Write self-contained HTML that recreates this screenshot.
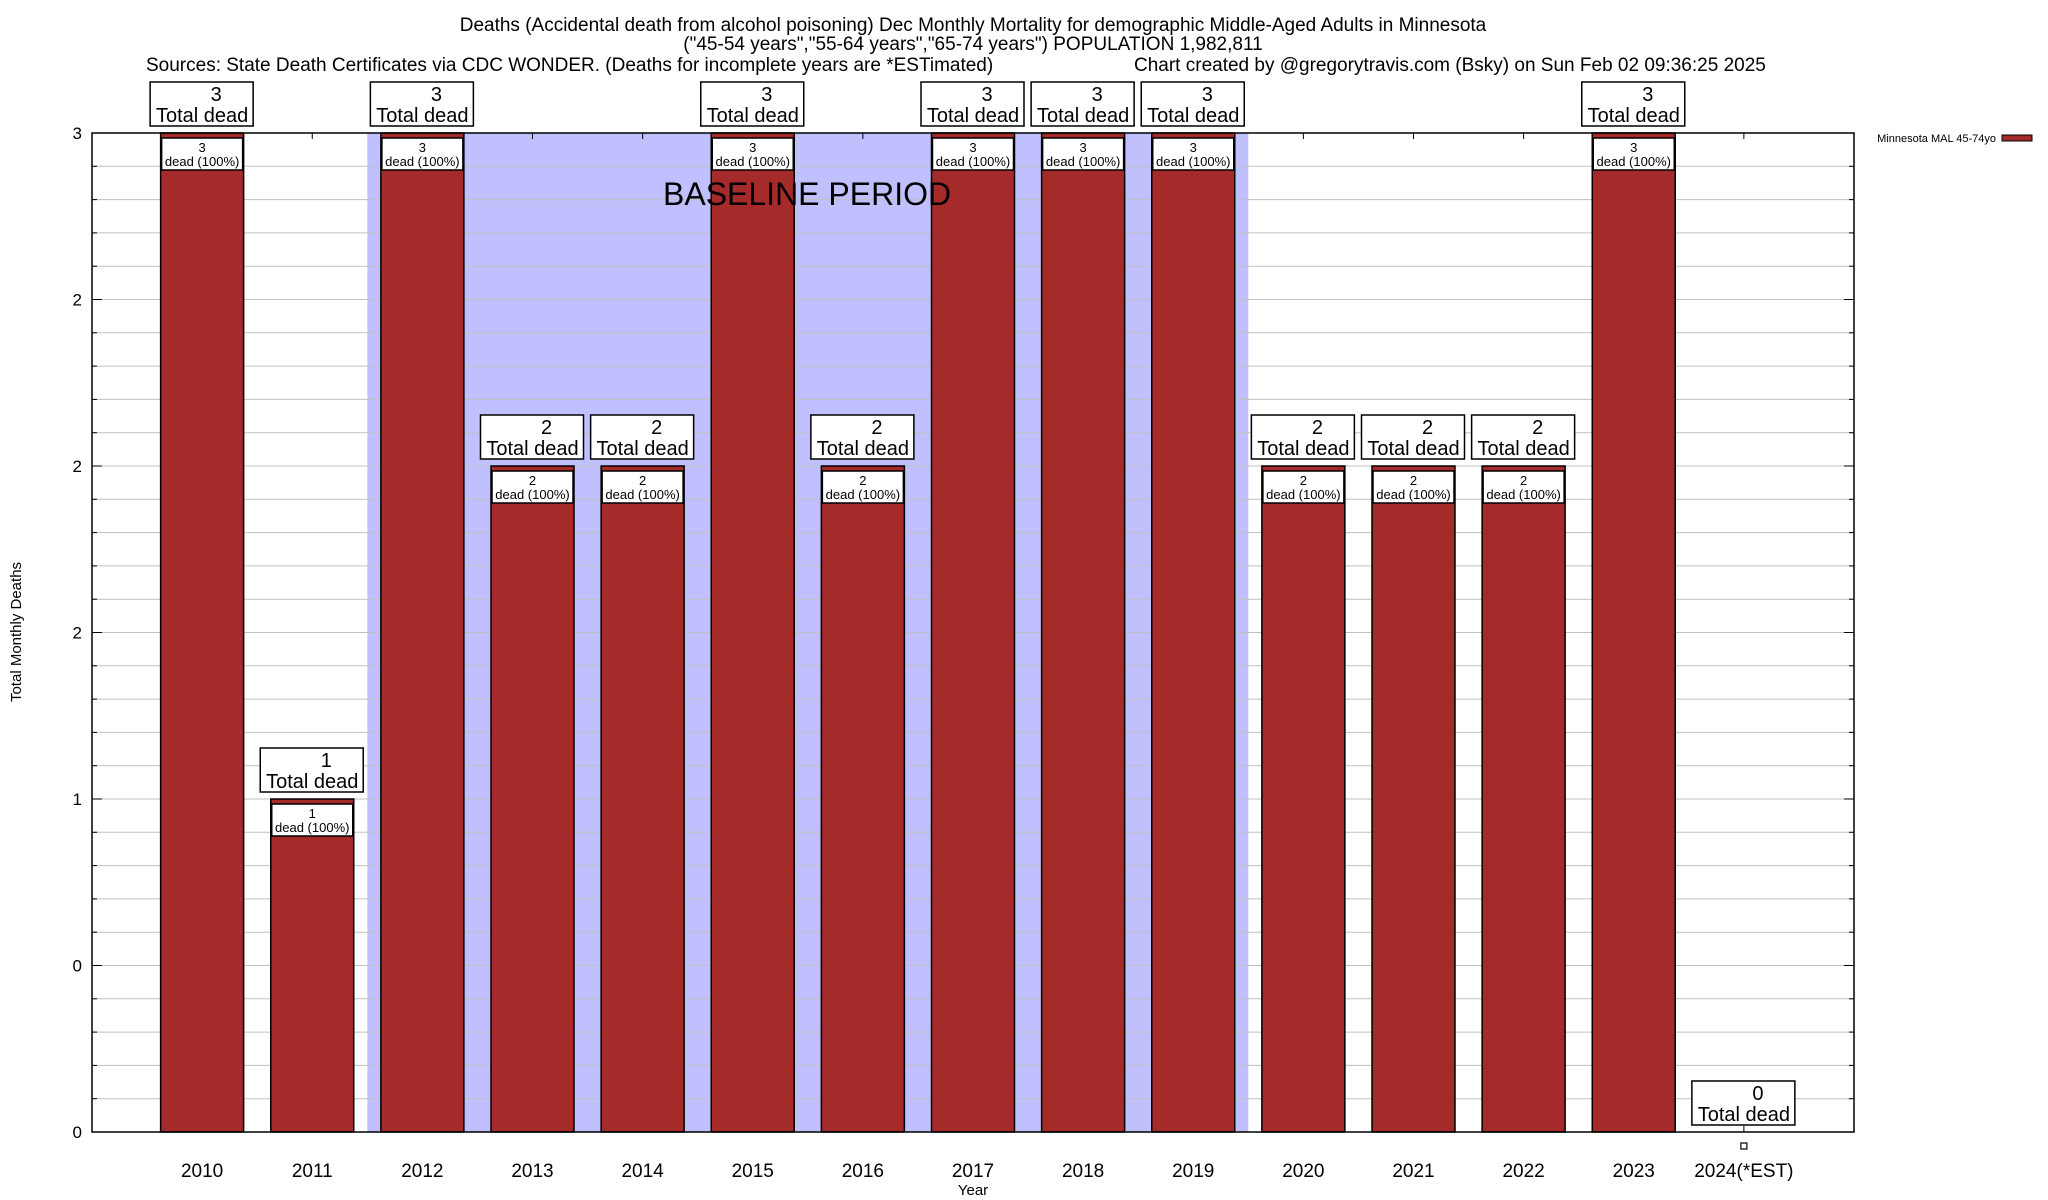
<!DOCTYPE html>
<html><head><meta charset="utf-8"><style>
html,body{margin:0;padding:0;background:#fff}
svg{display:block;font-family:"Liberation Sans",sans-serif}
</style></head><body>
<svg id="chart" width="2048" height="1200" viewBox="0 0 2048 1200" xmlns="http://www.w3.org/2000/svg">
<g font-size="19" fill="#000">
<text x="973" y="31" text-anchor="middle">Deaths (Accidental death from alcohol poisoning) Dec Monthly Mortality for demographic Middle-Aged Adults in Minnesota</text>
<text x="973" y="50" text-anchor="middle">("45-54 years","55-64 years","65-74 years") POPULATION 1,982,811</text>
<text x="146" y="71">Sources: State Death Certificates via CDC WONDER. (Deaths for incomplete years are *ESTimated)</text>
<text x="1134" y="71">Chart created by @gregorytravis.com (Bsky) on Sun Feb 02 09:36:25 2025</text>
</g>
<g id="plot"></g>
<text x="21" y="632" font-size="15" text-anchor="middle" transform="rotate(-90 21 632)">Total Monthly Deaths</text>
<text x="973" y="1195" font-size="15" text-anchor="middle">Year</text>
<g>
<text x="1996" y="142" font-size="11" text-anchor="end">Minnesota MAL 45-74yo</text>
<rect x="2002" y="135" width="30" height="6" fill="#a52a2a" stroke="#000" stroke-width="1"/>
</g>
</svg>
<script>
const categories=["2010","2011","2012","2013","2014","2015","2016","2017","2018","2019","2020","2021","2022","2023","2024(*EST)"];
const deaths=[3,1,3,2,2,3,2,3,3,3,2,2,2,3,0];
const yTicks=[0,0.5,1,1.5,2,2.5,3];
const yTickLabels=["0","0","1","2","2","2","3"];
const baselineStart=1.5, baselineEnd=9.5;
const L=92,R=1854,T=133,B=1132;
const xs=v=>L+(v+1)*(R-L)/16;
const ys=v=>B-v*(B-T)/3;
const NS="http://www.w3.org/2000/svg";
const g=document.getElementById('plot');
function mk(tag,attrs,parent){const e=document.createElementNS(NS,tag);for(const k in attrs)e.setAttribute(k,attrs[k]);(parent||g).appendChild(e);return e;}
let sh=mk('rect',{x:xs(baselineStart),y:T,width:xs(baselineEnd)-xs(baselineStart),height:B-T,fill:'#c0c0ff'});


for(let i=1;i<30;i++){const v=i/10;
 let l=mk('line',{x1:L,x2:R,y1:ys(v),y2:ys(v),stroke:'#c0c0c0','stroke-width':1});
 
 
 mk('line',{x1:L,x2:L+5,y1:ys(v),y2:ys(v),stroke:'#000'});
 mk('line',{x1:R-5,x2:R,y1:ys(v),y2:ys(v),stroke:'#000'});
}
yTicks.forEach((v,i)=>{
 let t=mk('text',{x:82,y:ys(v)+6,'font-size':17,'text-anchor':'end'});
 t.textContent=yTickLabels[i];
 
 
 mk('line',{x1:L,x2:L+10,y1:ys(v),y2:ys(v),stroke:'#000'});
 mk('line',{x1:R-10,x2:R,y1:ys(v),y2:ys(v),stroke:'#000'});
});
categories.forEach((c,i)=>{
 const cx=xs(i),w=83,v=deaths[i];
 mk('line',{x1:cx,x2:cx,y1:T,y2:T+6,stroke:'#000'});
 mk('line',{x1:cx,x2:cx,y1:B,y2:B-6,stroke:'#000'});
 if(v>0){
  let b=mk('rect',{x:cx-w/2,y:ys(v),width:w,height:B-ys(v),fill:'#a52a2a',stroke:'#000','stroke-width':1.5});
  
  
  mk('rect',{x:cx-w/2+1,y:ys(v)+5,width:w-2,height:32,fill:'#fff',stroke:'#000','stroke-width':1.5});
  let t1=mk('text',{x:cx,y:ys(v)+19,'font-size':13,'text-anchor':'middle'});t1.textContent=v;
  let t2=mk('text',{x:cx,y:ys(v)+33,'font-size':13,'text-anchor':'middle'});t2.textContent='dead (100%)';
 } else {
  mk('rect',{x:cx-3,y:B+11,width:6,height:6,fill:'#fff',stroke:'#000','stroke-width':1.2});
 }
 const by=ys(v)-7;
 let box=mk('rect',{x:cx-52,y:by-44,width:103,height:44,fill:'#fff',stroke:'#000','stroke-width':1.5});
 
 
 let a=mk('text',{x:cx+14,y:by-25,'font-size':20,'text-anchor':'middle'});a.textContent=v;
 let b2=mk('text',{x:cx,y:by-4,'font-size':20,'text-anchor':'middle'});b2.textContent='Total dead';
 let xl=mk('text',{x:cx,y:1177,'font-size':19,'text-anchor':'middle'});xl.textContent=c;
 
 
});
let bl=mk('text',{x:663,y:205,'font-size':32});
bl.textContent='BASELINE PERIOD';


let fr=mk('rect',{x:L,y:T,width:R-L,height:B-T,fill:'none',stroke:'#000','stroke-width':1.5});


</script>
</body></html>
